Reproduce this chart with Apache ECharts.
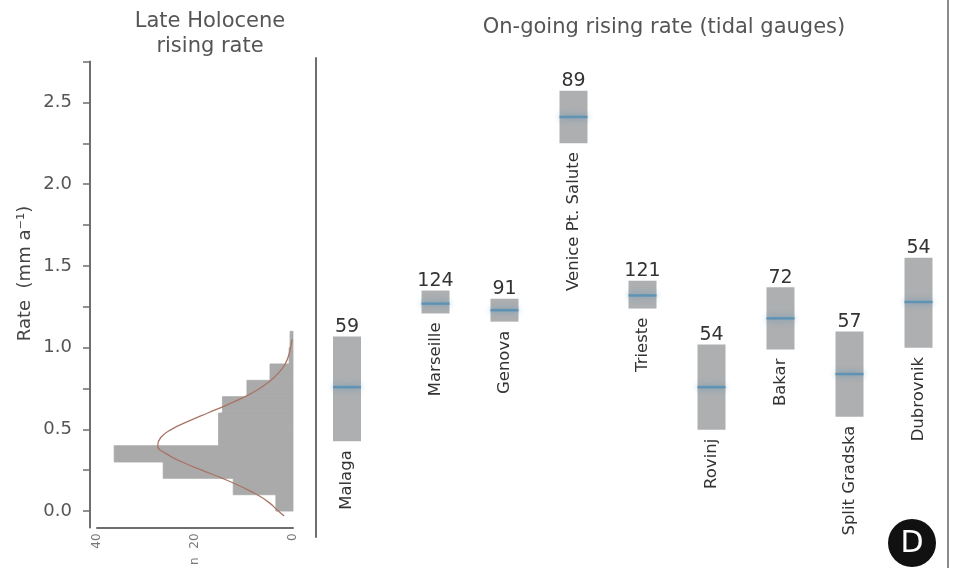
<!DOCTYPE html>
<html>
<head>
<meta charset="utf-8">
<script src="https://cdn.jsdelivr.net/npm/echarts@6/dist/echarts.min.js"></script>
<style>
  html, body { margin: 0; padding: 0; background: #fff; }
  #chart { width: 953px; height: 568px; }
</style>
</head>
<body>
<div id="chart"></div>
<script>
// Late Holocene rising rate: histogram bins (mm/a) and number of samples
const binLow   = [0.0, 0.1, 0.2, 0.3, 0.4, 0.5, 0.6, 0.7, 0.8, 0.9, 1.0];
const binHigh  = [0.1, 0.2, 0.3, 0.4, 0.5, 0.6, 0.7, 0.8, 0.9, 1.0, 1.1];
const binCount = [3.5, 12.2, 26.5, 36.5, 15.2, 15.2, 14.4, 9.4, 4.7, 0.8, 0.6];

// fitted distribution drawn over the histogram (rate, count)
const curveRate  = [-0.03, 0.00, 0.05, 0.10, 0.15, 0.20, 0.25, 0.30, 0.35, 0.40, 0.45, 0.50, 0.55, 0.60, 0.65, 0.70, 0.75, 0.80, 0.85, 0.90, 0.95, 1.00, 1.05];
const curveCount = [1.8, 3.0, 4.8, 7.3, 10.6, 14.4, 18.6, 22.6, 25.8, 27.6, 27.0, 24.8, 21.3, 17.4, 13.4, 9.8, 6.8, 4.5, 2.8, 1.6, 0.9, 0.5, 0.2];

// tide gauges: rate range, mean rate (mm/a) and record length (years)
const stations    = ['Malaga', 'Marseille', 'Genova', 'Venice Pt. Salute', 'Trieste', 'Rovinj', 'Bakar', 'Split Gradska', 'Dubrovnik'];
const rateLow     = [0.43, 1.21, 1.16, 2.25, 1.24, 0.50, 0.99, 0.58, 1.00];
const rateHigh    = [1.07, 1.35, 1.30, 2.57, 1.41, 1.02, 1.37, 1.10, 1.55];
const rateMean    = [0.76, 1.27, 1.23, 2.41, 1.32, 0.76, 1.18, 0.84, 1.28];
const recordYears = [59, 124, 91, 89, 121, 54, 72, 57, 54];

// axis ticks
const rateLabels = [0, 0.5, 1.0, 1.5, 2.0, 2.5];
const rateTicks  = [0, 0.25, 0.5, 0.75, 1.0, 1.25, 1.5, 1.75, 2.0, 2.25, 2.5, 2.75];

const FONT = "'DejaVu Sans', sans-serif";
const AXIS_GREY = '#6e6e6e';
const HIST_GREY = '#aaaaaa';

const chart = echarts.init(document.getElementById('chart'), null, { renderer: 'canvas' });

function gaugeSeries(from, to, axisIdx) {
  const names = stations.slice(from, to);
  const data = names.map((n, k) => {
    const i = from + k;
    return { name: n, value: [n, rateLow[i], rateHigh[i], rateMean[i], recordYears[i]] };
  });
  return {
    type: 'custom',
    xAxisIndex: axisIdx,
    yAxisIndex: axisIdx,
    encode: { x: 0, y: [1, 2, 3] },
    clip: false,
    data: data,
    renderItem: function (params, api) {
      const c = api.value(0);
      const top = api.coord([c, api.value(2)]);
      const bot = api.coord([c, api.value(1)]);
      const mid = api.coord([c, api.value(3)]);
      const w = 28;
      const cx = top[0];
      return {
        type: 'group',
        children: [
          { type: 'rect', shape: { x: cx - w / 2, y: top[1], width: w, height: bot[1] - top[1] },
            style: { fill: '#adafb1' } },
          { type: 'line', shape: { x1: cx - w / 2, y1: mid[1], x2: cx + w / 2, y2: mid[1] },
            style: { stroke: '#5f93b4', lineWidth: 2.5, shadowBlur: 6, shadowColor: 'rgba(95,147,180,0.9)' } },
          { type: 'text', x: cx, y: top[1],
            style: { text: String(api.value(4)), fontSize: 19, fontFamily: FONT, fill: '#333',
                     align: 'center', verticalAlign: 'bottom' } },
          { type: 'text', x: cx, y: bot[1] + 9, rotation: Math.PI / 2,
            style: { text: names[params.dataIndex], fontSize: 16.5, fontFamily: FONT, fill: '#333',
                     align: 'right', verticalAlign: 'middle' } }
        ]
      };
    }
  };
}

const option = {
  animation: false,
  backgroundColor: '#fff',
  title: [
    { text: 'Late Holocene\nrising rate', left: 205, top: 4, textAlign: 'center',
      textStyle: { fontFamily: FONT, fontSize: 21, fontWeight: 'normal', color: '#555', lineHeight: 25 } },
    { text: 'On-going rising rate (tidal gauges)', left: 659, top: 10, textAlign: 'center',
      textStyle: { fontFamily: FONT, fontSize: 21, fontWeight: 'normal', color: '#555', lineHeight: 25 } }
  ],
  grid: [
    { left: 97, width: 196, top: 61.6, height: 466.3 },
    { left: 316, width: 62, top: 58, height: 479 },
    { left: 401, width: 552, top: 58, height: 479 }
  ],
  xAxis: [
    { gridIndex: 0, type: 'value', inverse: true, min: 0, max: 40, interval: 20,
      axisLine: { show: true, onZero: false, lineStyle: { color: AXIS_GREY, width: 2 } },
      axisTick: { show: false }, splitLine: { show: false },
      axisLabel: { rotate: 90, fontSize: 12, fontFamily: FONT, color: '#777', margin: 6 },
      name: 'n', nameLocation: 'middle', nameGap: 30, nameRotate: 90,
      nameTextStyle: { fontSize: 12, fontFamily: FONT, color: '#777' } },
    { gridIndex: 1, type: 'category', data: stations.slice(0, 1), show: false },
    { gridIndex: 2, type: 'category', data: stations.slice(1), show: false }
  ],
  yAxis: [
    { gridIndex: 0, type: 'value', min: -0.1, max: 2.75, offset: 7,
      axisLine: { show: true, onZero: false, lineStyle: { color: AXIS_GREY, width: 2 } },
      axisTick: { show: true, length: 7, customValues: rateTicks, lineStyle: { color: AXIS_GREY, width: 1.5 } },
      axisLabel: { customValues: rateLabels, formatter: v => v.toFixed(1), fontSize: 18,
                   fontFamily: FONT, color: '#555', margin: 18 },
      splitLine: { show: false },
      name: 'Rate  (mm a\u207B\u00B9)', nameLocation: 'middle', nameRotate: 90, nameGap: 56,
      nameTextStyle: { fontSize: 18, fontFamily: FONT, color: '#444', padding: [0, 0, 0, 42] } },
    { gridIndex: 1, type: 'value', min: -0.155, max: 2.77,
      axisLine: { show: true, onZero: false, lineStyle: { color: AXIS_GREY, width: 2 } },
      axisTick: { show: false }, axisLabel: { show: false }, splitLine: { show: false } },
    { gridIndex: 2, type: 'value', min: -0.155, max: 2.77, show: false, splitLine: { show: false } }
  ],
  series: [
    { type: 'custom', xAxisIndex: 0, yAxisIndex: 0, clip: false,
      encode: { x: 2, y: [0, 1] },
      data: binLow.map((lo, i) => [lo, binHigh[i], binCount[i]]),
      renderItem: function (params, api) {
        const a = api.coord([0, api.value(1)]);
        const b = api.coord([api.value(2), api.value(0)]);
        return { type: 'rect',
          shape: { x: Math.min(a[0], b[0]), y: Math.min(a[1], b[1]),
                   width: Math.abs(a[0] - b[0]), height: Math.abs(a[1] - b[1]) },
          style: { fill: HIST_GREY, stroke: HIST_GREY, lineWidth: 0.8 } };
      } },
    { type: 'line', xAxisIndex: 0, yAxisIndex: 0, smooth: true, symbol: 'none', z: 5,
      data: curveCount.map((c, i) => [c, curveRate[i]]),
      lineStyle: { color: '#a87565', width: 1.3 } },
    gaugeSeries(0, 1, 1),
    gaugeSeries(1, stations.length, 2)
  ],
  graphic: [
    { type: 'line', shape: { x1: 948, y1: 0, x2: 948, y2: 568 }, style: { stroke: '#8a8a8a', lineWidth: 2 } },
    { type: 'group', left: 888, top: 519, children: [
      { type: 'circle', shape: { cx: 24, cy: 24, r: 24 }, style: { fill: '#111' } },
      { type: 'text', x: 24, y: 25, style: { text: 'D', fill: '#fff', fontSize: 30, fontFamily: FONT,
        align: 'center', verticalAlign: 'middle' } }
    ] }
  ]
};

chart.setOption(option);
</script>
</body>
</html>
